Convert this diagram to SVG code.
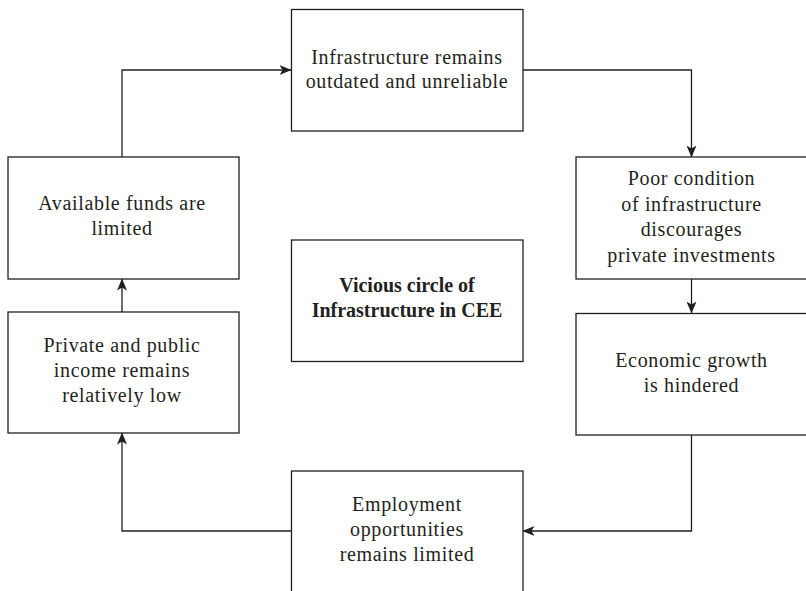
<svg xmlns="http://www.w3.org/2000/svg" width="806" height="591" viewBox="0 0 806 591">
  <style>
    .box { fill: #ffffff; stroke: #231f20; stroke-width: 1.3; }
    .lbl { font-family: "Liberation Serif", "Times New Roman", serif; font-size: 20px; letter-spacing: 0.65px; fill: #231f20; text-anchor: middle; }
    .bold { font-weight: bold; letter-spacing: 0; }
    .conn { fill: none; stroke: #231f20; stroke-width: 1.3; }
  </style>
  <defs>
    <marker id="arrow" viewBox="0 0 12 10" refX="11.5" refY="5" markerWidth="12" markerHeight="10" markerUnits="userSpaceOnUse" orient="auto">
      <path d="M0,0 L12,5 L0,10 L3,5 Z" fill="#231f20"/>
    </marker>
  </defs>
  <rect width="806" height="591" fill="#ffffff"/>

  <g id="connectors">
    <path class="conn" d="M122,157 V70 H291" marker-end="url(#arrow)"/>
    <path class="conn" d="M523,70 H691.5 V157" marker-end="url(#arrow)"/>
    <path class="conn" d="M691.5,279 V313" marker-end="url(#arrow)"/>
    <path class="conn" d="M691.5,435 V531 H523" marker-end="url(#arrow)"/>
    <path class="conn" d="M291,531 H122 V433" marker-end="url(#arrow)"/>
    <path class="conn" d="M122,312 V279" marker-end="url(#arrow)"/>
  </g>

  <g id="node-infrastructure">
    <rect class="box" x="291.5" y="9.5" width="231.5" height="121.5"/>
    <text class="lbl" x="407" y="63.5">Infrastructure remains</text>
    <text class="lbl" x="407" y="88">outdated and unreliable</text>
  </g>

  <g id="node-poor-condition">
    <rect class="box" x="576" y="157" width="235" height="122"/>
    <text class="lbl" x="691.5" y="185">Poor condition</text>
    <text class="lbl" x="691.5" y="210.5">of infrastructure</text>
    <text class="lbl" x="691.5" y="236">discourages</text>
    <text class="lbl" x="691.5" y="261.5">private investments</text>
  </g>

  <g id="node-economic-growth">
    <rect class="box" x="576" y="313.5" width="235" height="121.5"/>
    <text class="lbl" x="691.5" y="367">Economic growth</text>
    <text class="lbl" x="691.5" y="392">is hindered</text>
  </g>

  <g id="node-employment">
    <rect class="box" x="291.5" y="471" width="231.5" height="130"/>
    <text class="lbl" x="407" y="511">Employment</text>
    <text class="lbl" x="407" y="536">opportunities</text>
    <text class="lbl" x="407" y="561">remains limited</text>
  </g>

  <g id="node-income">
    <rect class="box" x="8" y="312" width="231" height="121"/>
    <text class="lbl" x="122" y="352">Private and public</text>
    <text class="lbl" x="122" y="377">income remains</text>
    <text class="lbl" x="122" y="402">relatively low</text>
  </g>

  <g id="node-funds">
    <rect class="box" x="8" y="157" width="231" height="122"/>
    <text class="lbl" x="122" y="210">Available funds are</text>
    <text class="lbl" x="122" y="235">limited</text>
  </g>

  <g id="node-center">
    <rect class="box" x="291.5" y="240" width="231.5" height="121.5"/>
    <text class="lbl bold" x="407" y="292">Vicious circle of</text>
    <text class="lbl bold" x="407" y="317">Infrastructure in CEE</text>
  </g>
</svg>
